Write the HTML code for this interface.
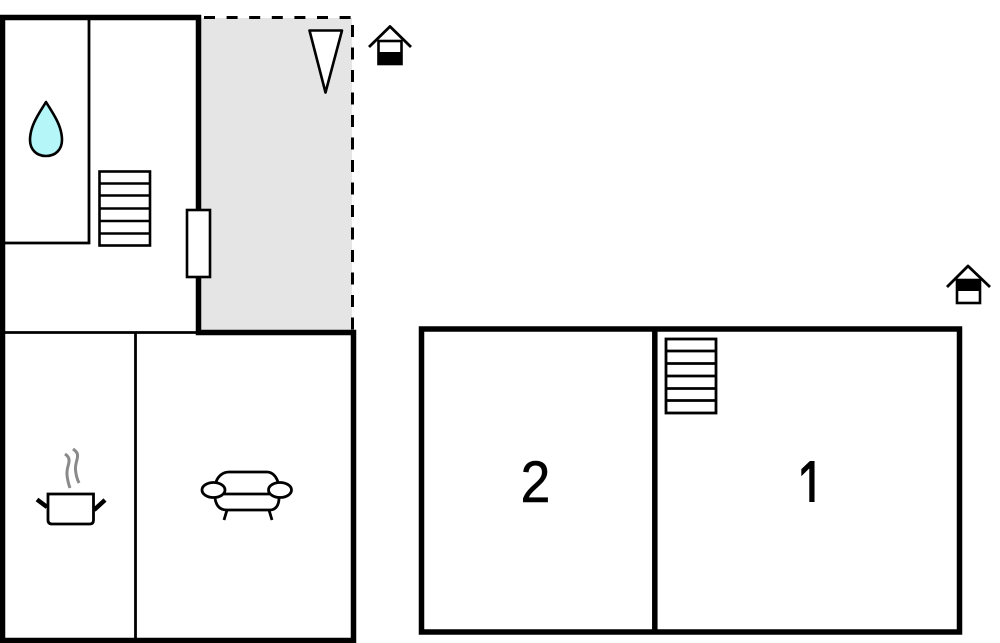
<!DOCTYPE html>
<html><head><meta charset="utf-8"><style>html,body{margin:0;padding:0;background:#fff;width:1000px;height:643px;overflow:hidden}svg{display:block}</style></head>
<body>
<svg width="1000" height="643" viewBox="0 0 1000 643" xmlns="http://www.w3.org/2000/svg" fill="none" stroke="#000">
<defs><clipPath id="c1"><rect x="780" y="450" width="60" height="52"/></clipPath></defs>
<!-- balcony -->
<rect x="199" y="18" width="153" height="313" fill="#e5e5e5" stroke="none"/>
<path d="M204 17.5H352" stroke-width="3" stroke-dasharray="11 11.6"/>
<path d="M352.5 17V330" stroke-width="3" stroke-dasharray="12 10.5" stroke-dashoffset="-8"/>
<!-- left building walls -->
<path d="M2.5 643V17.5H198.5V332.5H353.5V640.5H0" stroke-width="5.5"/>
<path d="M5 332.5H197" stroke-width="2.8"/>
<path d="M135.5 332V639" stroke-width="2.8"/>
<path d="M89 19V243H4" stroke-width="2.8"/>
<!-- drop -->
<path d="M46 102C40 112 30 125 30 140C30 150 37 156 46 156C55 156 62 150 62 140C62 125 52 112 46 102Z" fill="#b5f7f9" stroke-width="2.6" stroke-linejoin="round"/>
<!-- stairs 1 -->
<rect x="99.500" y="171.500" width="50.500" height="74" fill="#fff" stroke-width="2.600"/>
<path d="M100 183.500H150M100 195.500H150M100 208.500H150M100 221H150M100 233.500H150" stroke-width="2.600"/>
<!-- door -->
<rect x="187" y="210" width="23" height="67" fill="#fff" stroke-width="2.600"/>
<!-- triangle -->
<path d="M309.500 30.500H342L325.500 92.500Z" fill="#fff" stroke-width="2.600" stroke-linejoin="round"/>
<!-- house icon 1 -->
<path d="M369 47L390 26.500L411 47" stroke-width="2.800" stroke-linejoin="round"/>
<rect x="378.500" y="41" width="23" height="23" fill="#fff" stroke-width="2.600"/>
<rect x="378" y="52" width="24" height="12" fill="#000" stroke="none"/>
<!-- pot -->
<path d="M65 454C68 456 69.500 458 69 462C68 467 66.500 470 67 475C67.500 480 68.500 484 70 488" stroke="#8a8a8a" stroke-width="3"/>
<path d="M73 449C76 451 78 453 77.500 457C77 461 75 465 75.500 470C76 475 77.500 480 79 483" stroke="#8a8a8a" stroke-width="3"/>
<path d="M48 494H93.500V520Q93.500 524 90 524H52Q48 524 48 520Z" fill="#fff" stroke-width="2.800"/>
<path d="M37 499.500L47 507M105 500L94 510" stroke-width="4.500"/>
<!-- sofa -->
<path d="M216 482C218 476 223 472 229 472H267C272 472 276 476 278 482" stroke-width="2.800"/>
<path d="M215 498C216 506 220 510 227 510H270C275 510 279 506 279 498" stroke-width="2.800"/>
<path d="M224 494H270" stroke-width="2.800"/>
<ellipse cx="213.500" cy="490" rx="11.500" ry="7.500" fill="#fff" stroke-width="2.800"/>
<ellipse cx="280" cy="490" rx="11.500" ry="7.500" fill="#fff" stroke-width="2.800"/>
<path d="M227 510L224 520M269 510L272 520" stroke-width="2.800"/>
<!-- right building -->
<rect x="421.500" y="329" width="538" height="303" stroke-width="5.500"/>
<path d="M654.800 329V632" stroke-width="5.500"/>
<rect x="666" y="339" width="50" height="74" fill="#fff" stroke-width="2.800"/>
<path d="M666 351H716M666 363.500H716M666 376H716M666 388.500H716M666 400.500H716" stroke-width="2.800"/>
<!-- house icon 2 -->
<path d="M947 287L968 266L990 287" stroke-width="2.800" stroke-linejoin="round"/>
<rect x="957" y="280" width="23" height="23" fill="#fff" stroke-width="2.600"/>
<rect x="956" y="279" width="25" height="12" fill="#000" stroke="none"/>
<!-- labels -->
<text transform="translate(535.500,502) scale(0.92,1)" text-anchor="middle" font-family="'Liberation Sans',sans-serif" font-size="58" fill="#000" stroke="#000" stroke-width="0.6">2</text>
<g clip-path="url(#c1)"><text transform="translate(811,510) scale(0.9,1.24)" text-anchor="middle" font-family="'Liberation Sans',sans-serif" font-size="57" fill="#000" stroke="#000" stroke-width="0.8">1</text></g>
</svg>
</body></html>
